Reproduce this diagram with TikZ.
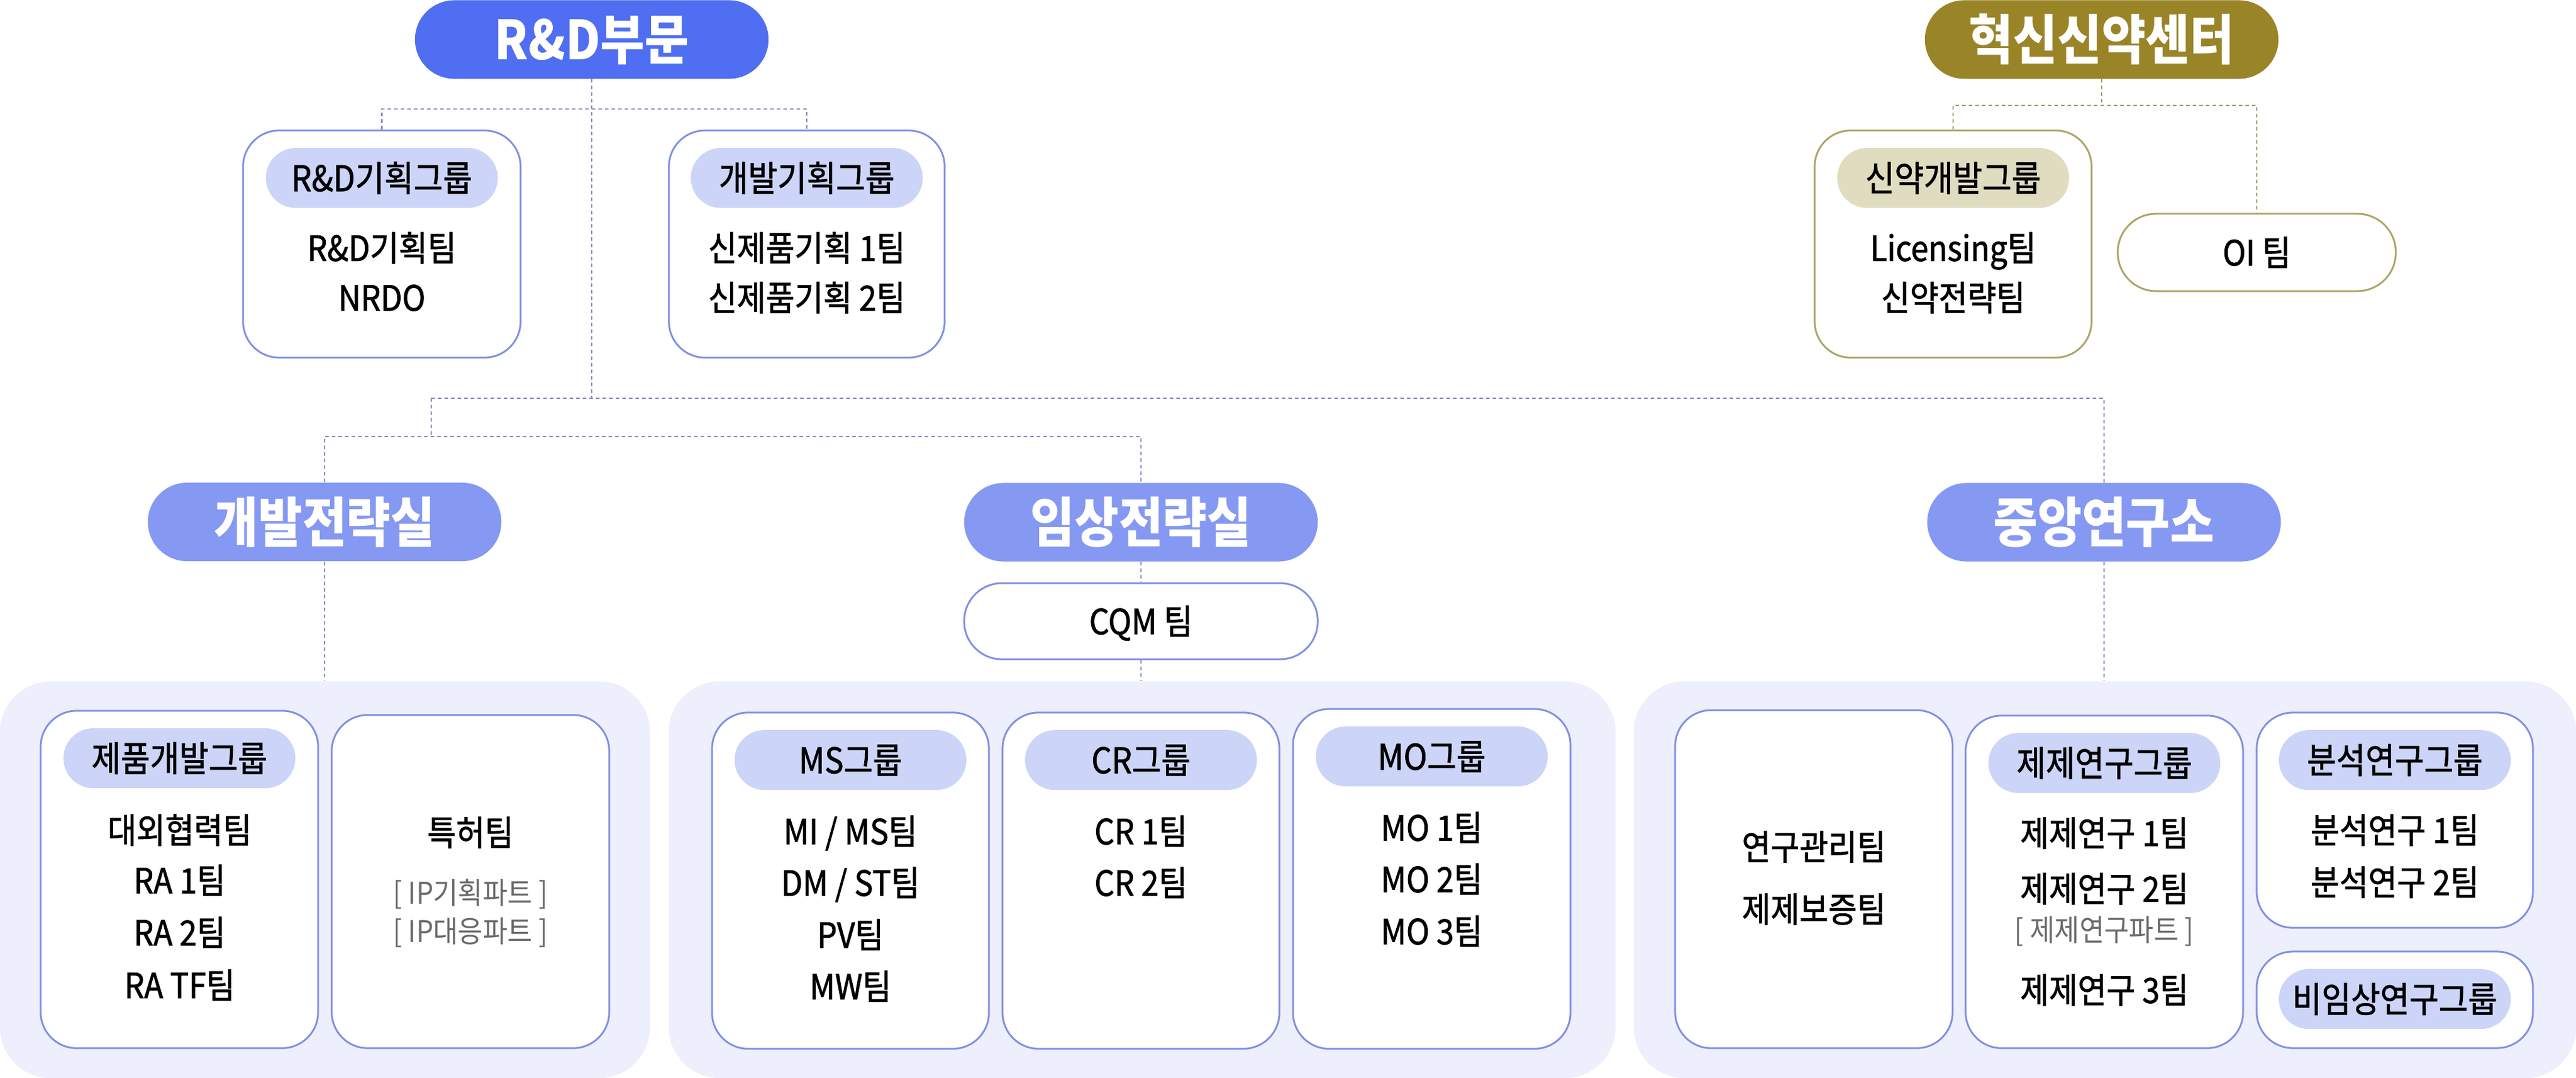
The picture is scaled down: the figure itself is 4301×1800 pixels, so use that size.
\documentclass[tikz,border=0pt]{standalone}
\usepackage{fontspec}
\setmainfont{Noto Sans CJK KR}
\newfontfamily\medfont{Noto Sans CJK KR}[FakeBold=1.4, FakeStretch=0.9]
\newfontfamily\headfont{Noto Sans CJK KR}[FakeStretch=0.89]
\newfontfamily\notefont{Noto Sans CJK KR}[FakeStretch=0.9]
\usetikzlibrary{positioning}
\definecolor{rdblue}{HTML}{4F6EF2}
\definecolor{innogold}{HTML}{9A8428}
\definecolor{subblue}{HTML}{8598F2}
\definecolor{tagblue}{HTML}{CCD4F8}
\definecolor{tagsand}{HTML}{E0DCC0}
\definecolor{cardline}{HTML}{8090E2}
\definecolor{goldline}{HTML}{ABA568}
\definecolor{panelbg}{HTML}{EDEFFC}
\definecolor{linkblue}{HTML}{8588C8}
\definecolor{linkgold}{HTML}{A39C6E}
\definecolor{notegray}{HTML}{6A6A6A}
\tikzset{x=0.01cm, y=-0.01cm, % one unit = one pixel of the chart
  head/.style={ % coloured title pills
    fill=rdblue, text=white, inner sep=0pt,
    rounded corners=0.655cm, minimum width=5.9cm, minimum height=1.31cm,
    font=\fontsize{0.9cm}{1.05cm}\selectfont\headfont\bfseries,
    text height=0.756cm, text depth=0.081cm},
  panel/.style={fill=panelbg, rounded corners=0.85cm, inner sep=0pt},
  card/.style={
    draw=cardline, line width=0.03cm, fill=white,
    rounded corners=0.6cm, minimum width=4.63cm, inner sep=0pt},
  teampill/.style={card, rounded corners=0.63cm, minimum width=5.9cm,
    minimum height=1.27cm,
    font=\fontsize{0.58cm}{0.68cm}\selectfont\medfont,
    text height=0.487cm, text depth=0.052cm},
  tag/.style={ % group name inside a card
    fill=tagblue, rounded corners=0.5cm, inner sep=0pt,
    minimum width=3.87cm, minimum height=1cm,
    font=\fontsize{0.59cm}{0.69cm}\selectfont\medfont,
    text height=0.495cm, text depth=0.053cm},
  item/.style={inner sep=0pt, font=\fontsize{0.58cm}{0.68cm}\selectfont\medfont,
    text height=0.487cm, text depth=0.052cm},
  note/.style={inner sep=0pt, text=notegray,
    font=\fontsize{0.5cm}{0.6cm}\selectfont\notefont,
    text height=0.42cm, text depth=0.045cm},
  link/.style={draw=linkblue, line width=0.025cm,
    dash pattern=on 0.06cm off 0.05cm},
  linkg/.style={link, draw=linkgold}}

\begin{document}
\begin{tikzpicture}
  \useasboundingbox (0,0) rectangle (4301,1800);

  % bottom panels
  \node[panel, minimum width=10.85cm, minimum height=6.62cm] (p1) at (542.5,1469) {};
  \node[panel, minimum width=15.8cm, minimum height=6.62cm] (p2) at (1907,1469) {};
  \node[panel, minimum width=15.73cm, minimum height=6.62cm] (p3) at (3514.5,1469) {};

  % title pills
  \node[head] (rd) at (988,66) {R\&D부문};
  \node[head, fill=innogold] (inno) at (3509,66) {혁신신약센터};
  \node[head, fill=subblue] (devs) at (542,871.5) {개발전략실};
  \node[head, fill=subblue] (clin) at (1905,872) {임상전략실};
  \node[head, fill=subblue] (cen) at (3513,872) {중앙연구소};
  \node[teampill, below=0.34cm of clin] (cqm) {CQM 팀};

  % connectors
  \coordinate (jrd) at (988,182);
  \coordinate (jleft) at (720,665);
  \coordinate (jstrat) at (720,729);
  \coordinate (jinno) at (3509,176);

  \node[card, minimum height=3.79cm] (rdp) at (637.5,407.5) {};
  \node[card, minimum height=3.79cm, minimum width=4.6cm] (dev) at (1347,407.5) {};
  \node[card, draw=goldline, minimum height=3.79cm, minimum width=4.62cm] (newd) at (3261,407.5) {};
  \node[teampill, draw=goldline, minimum width=4.64cm, minimum height=1.29cm,
    rounded corners=0.64cm] (oi) at (3768,421.5) {OI 팀};

  \draw[link] (rd.south) -- (rd.south |- jleft);
  \draw[link] (rdp.north) |- (jrd) -| (dev.north);
  \draw[link] (jleft) -| (cen.north);
  \draw[link] (jleft) -- (jstrat);
  \draw[link] (devs.north) |- (jstrat) -| (clin.north);
  \draw[link] (devs.south) -- (devs.south |- p1.north);
  \draw[link] (clin.south) -- (cqm.north);
  \draw[link] (cqm.south) -- (cqm.south |- p2.north);
  \draw[link] (cen.south) -- (cen.south |- p3.north);
  \draw[linkg] (inno.south) -- (jinno);
  \draw[linkg] (newd.north) |- (jinno) -| (oi.north);

  % top groups
  \node[tag, below=0.3cm of rdp.north] (rdpg) {R\&D기획그룹};
  \node[item] (rdp1) at (637.5,414) {R\&D기획팀};
  \node[item] (rdp2) at (637.5,497) {NRDO};
  \node[tag, below=0.3cm of dev.north] (devg) {개발기획그룹};
  \node[item] (dev1) at (1347,414) {신제품기획 1팀};
  \node[item] (dev2) at (1347,497) {신제품기획 2팀};
  \node[tag, fill=tagsand, below=0.3cm of newd.north] (newdg) {신약개발그룹};
  \node[item] (newd1) at (3261,414) {Licensing팀};
  \node[item] (newd2) at (3261,497) {신약전략팀};

  % 개발전략실
  \node[card, minimum height=5.63cm] (prod) at (299.5,1468.5) {};
  \node[card, minimum height=5.56cm] (pat) at (785.5,1472) {};
  \node[tag, below=0.3cm of prod.north] (prodg) {제품개발그룹};
  \node[item] (prod1) at (300,1386) {대외협력팀};
  \node[item] (prod2) at (300,1470) {RA 1팀};
  \node[item] (prod3) at (300,1557) {RA 2팀};
  \node[item] (prod4) at (300,1645) {RA TF팀};
  \node[item] (pat1) at (785.5,1390) {특허팀};
  \node[note] (pat2) at (785.5,1491) {[ IP기획파트 ]};
  \node[note] (pat3) at (785.5,1555) {[ IP대응파트 ]};

  % 임상전략실
  \node[card, minimum height=5.61cm, minimum width=4.62cm] (ms) at (1420,1470.5) {};
  \node[card, minimum height=5.61cm, minimum width=4.62cm] (cr) at (1905,1470.5) {};
  \node[card, minimum height=5.67cm] (mo) at (2390.5,1467.5) {};
  \node[tag, below=0.3cm of ms.north] (msg) {MS그룹};
  \node[item] (ms1) at (1420,1388) {MI / MS팀};
  \node[item] (ms2) at (1420,1474) {DM / ST팀};
  \node[item] (ms3) at (1420,1561) {PV팀};
  \node[item] (ms4) at (1420,1647) {MW팀};
  \node[tag, below=0.3cm of cr.north] (crg) {CR그룹};
  \node[item] (cr1) at (1905,1388) {CR 1팀};
  \node[item] (cr2) at (1905,1474) {CR 2팀};
  \node[tag, below=0.3cm of mo.north] (mog) {MO그룹};
  \node[item] (mo1) at (2390.5,1382) {MO 1팀};
  \node[item] (mo2) at (2390.5,1468) {MO 2팀};
  \node[item] (mo3) at (2390.5,1555) {MO 3팀};

  % 중앙연구소
  \node[card, minimum height=5.64cm] (mgmt) at (3028.5,1468) {};
  \node[card, minimum height=5.55cm] (form) at (3513.5,1472.5) {};
  \node[card, minimum height=3.59cm, minimum width=4.61cm] (anal) at (3998.5,1369.5) {};
  \node[card, minimum height=1.61cm, minimum width=4.61cm] (npre) at (3998.5,1669.5) {};
  \node[item] (mgmt1) at (3028.5,1414) {연구관리팀};
  \node[item] (mgmt2) at (3028.5,1518) {제제보증팀};
  \node[tag, below=0.3cm of form.north] (formg) {제제연구그룹};
  \node[item] (form1) at (3513.5,1391) {제제연구 1팀};
  \node[item] (form2) at (3513.5,1484) {제제연구 2팀};
  \node[note] (form3) at (3513.5,1553) {[ 제제연구파트 ]};
  \node[item] (form4) at (3513.5,1653) {제제연구 3팀};
  \node[tag, below=0.3cm of anal.north] (analg) {분석연구그룹};
  \node[item] (anal1) at (3998.5,1386) {분석연구 1팀};
  \node[item] (anal2) at (3998.5,1473) {분석연구 2팀};
  \node[tag, below=0.3cm of npre.north] (npreg) {비임상연구그룹};
\end{tikzpicture}
\end{document}
